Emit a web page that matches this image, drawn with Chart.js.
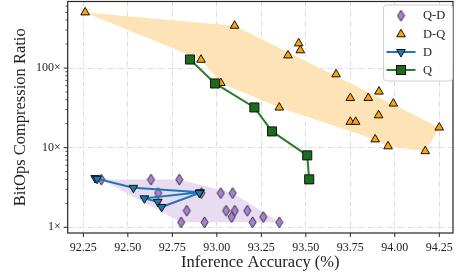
<!DOCTYPE html>
<html><head><meta charset="utf-8">
<script src="https://cdn.jsdelivr.net/npm/chart.js@4.4.1/dist/chart.umd.min.js"></script>
<style>html,body{margin:0;padding:0;background:#fff;overflow:hidden;}</style>
</head><body>
<canvas id="c" width="457" height="277"></canvas>
<script>
// ---- data ----
const qdAcc   = [92.351, 92.630, 92.789, 92.670, 92.913, 93.022, 93.089, 92.831, 93.052, 93.101, 93.171, 93.083, 93.261, 92.799, 92.931, 93.201, 93.351];
const qdRatio = [3.97, 3.97, 3.97, 2.69, 2.69, 2.69, 2.69, 1.615, 1.615, 1.615, 1.615, 1.346, 1.346, 1.155, 1.155, 1.155, 1.155];

const dqAcc   = [92.26, 92.911, 93.10, 93.46, 93.469, 93.40, 93.022, 93.351, 93.67, 93.75, 93.851, 93.911, 93.992, 93.909, 93.75, 93.78, 94.25, 93.89, 93.962, 94.171];
const dqRatio = [500, 127, 340, 204, 167, 144, 64.9, 31.9, 83.4, 42.1, 42.1, 50.6, 35.8, 25.5, 21.1, 21.1, 17.9, 12.7, 10.4, 9.04];

const dAcc    = [92.316, 92.327, 92.531, 92.906, 92.593, 92.668, 92.690, 92.902];
const dRatio  = [4.15, 4.07, 3.13, 2.75, 2.31, 2.09, 1.80, 2.70];

const qAcc    = [92.849, 92.990, 93.211, 93.310, 93.508, 93.519];
const qRatio  = [128, 64, 32, 16, 8, 4];

const xTickVals   = [92.25, 92.50, 92.75, 93.00, 93.25, 93.50, 93.75, 94.00, 94.25];
const yTickVals   = [1,2,3,4,5,6,7,8,9,10,20,30,40,50,60,70,80,90,100,200,300,400,500,600];
const yMajorVals  = [1, 10, 100];
const yMajorLabels= ['1×', '10×', '100×'];
const seriesNames = ['Q-D', 'D-Q', 'D', 'Q'];

// ---- helpers ----
const pts = (xs, ys) => xs.map((x, i) => ({x, y: ys[i]}));
function hull(p) { // convex hull (monotone chain) in data space
  const s = p.slice().sort((a, b) => a.x - b.x || a.y - b.y);
  const cr = (o, a, b) => (a.x - o.x) * (b.y - o.y) - (a.y - o.y) * (b.x - o.x);
  const lo = [], up = [];
  for (const q of s) { while (lo.length >= 2 && cr(lo[lo.length-2], lo[lo.length-1], q) <= 0) lo.pop(); lo.push(q); }
  for (let i = s.length - 1; i >= 0; i--) { const q = s[i]; while (up.length >= 2 && cr(up[up.length-2], up[up.length-1], q) <= 0) up.pop(); up.push(q); }
  up.pop(); lo.pop();
  return lo.concat(up);
}
const SERIF = "'Liberation Serif', 'DejaVu Serif', serif";

function diamondSprite(w, h, fill) {
  const c = document.createElement('canvas');
  c.width = w + 2; c.height = h + 2;
  const g = c.getContext('2d');
  g.beginPath();
  g.moveTo(c.width/2, 1); g.lineTo(c.width - 1, c.height/2);
  g.lineTo(c.width/2, c.height - 1); g.lineTo(1, c.height/2); g.closePath();
  g.fillStyle = fill; g.fill();
  g.lineWidth = 0.9; g.strokeStyle = '#222'; g.stroke();
  return c;
}
const PURPLE = '#a97fd6', ORANGE = '#ffa500', BLUE = '#1f77b4', GREEN_L = '#2a7d2a', GREEN_M = '#1d6b1d';
const diamond = diamondSprite(7, 11, PURPLE);

const frameTicksLegend = {
  id: 'frameTicksLegend',
  afterDraw(chart) {
    const ctx = chart.ctx, a = chart.chartArea;
    const xs = chart.scales.x, ys = chart.scales.y;
    ctx.save();
    ctx.strokeStyle = '#262626';
    for (const v of xTickVals) {
      const px = xs.getPixelForValue(v);
      ctx.lineWidth = 1; ctx.beginPath(); ctx.moveTo(px, a.bottom); ctx.lineTo(px, a.bottom + 4); ctx.stroke();
    }
    for (const v of yTickVals) {
      const py = ys.getPixelForValue(v);
      if (py < a.top || py > a.bottom) continue;
      const major = yMajorVals.includes(v);
      ctx.lineWidth = major ? 1 : 0.8;
      ctx.beginPath(); ctx.moveTo(a.left, py); ctx.lineTo(a.left - (major ? 4 : 2.3), py); ctx.stroke();
    }
    ctx.lineWidth = 1.2; ctx.strokeStyle = '#262626';
    ctx.strokeRect(a.left, a.top, a.right - a.left, a.bottom - a.top);
    // legend
    const bx = 383.5, by = 5, bw = 69, bh = 76, r = 3;
    ctx.beginPath();
    ctx.moveTo(bx + r, by); ctx.lineTo(bx + bw - r, by); ctx.arcTo(bx + bw, by, bx + bw, by + r, r);
    ctx.lineTo(bx + bw, by + bh - r); ctx.arcTo(bx + bw, by + bh, bx + bw - r, by + bh, r);
    ctx.lineTo(bx + r, by + bh); ctx.arcTo(bx, by + bh, bx, by + bh - r, r);
    ctx.lineTo(bx, by + r); ctx.arcTo(bx, by, bx + r, by, r); ctx.closePath();
    ctx.fillStyle = 'rgba(255,255,255,0.85)'; ctx.fill();
    ctx.lineWidth = 1; ctx.strokeStyle = '#d0d0d0'; ctx.stroke();
    const mx = 401, rows = [15.7, 34.3, 52, 70];
    ctx.drawImage(diamond, mx - diamond.width/2, rows[0] - diamond.height/2);
    tri(ctx, mx, rows[1], 5, false, ORANGE);
    ctx.strokeStyle = BLUE; ctx.lineWidth = 2;
    ctx.beginPath(); ctx.moveTo(386.5, rows[2]); ctx.lineTo(415.5, rows[2]); ctx.stroke();
    tri(ctx, mx, rows[2], 5, true, BLUE);
    ctx.strokeStyle = GREEN_L; ctx.lineWidth = 2;
    ctx.beginPath(); ctx.moveTo(386.5, rows[3]); ctx.lineTo(415.5, rows[3]); ctx.stroke();
    ctx.fillStyle = GREEN_M; ctx.fillRect(mx - 4.5, rows[3] - 4.5, 9, 9);
    ctx.lineWidth = 1; ctx.strokeStyle = '#111'; ctx.strokeRect(mx - 4.5, rows[3] - 4.5, 9, 9);
    ctx.fillStyle = '#222'; ctx.font = '12.5px ' + SERIF; ctx.textBaseline = 'middle'; ctx.textAlign = 'left';
    seriesNames.forEach((t, i) => ctx.fillText(t, 423, rows[i] + 0.5));
    ctx.restore();
  }
};
function tri(ctx, x, y, r, down, fill) {
  ctx.beginPath();
  const s = down ? -1 : 1;
  ctx.moveTo(x, y - s * r);
  ctx.lineTo(x + r * 0.866, y + s * r * 0.5);
  ctx.lineTo(x - r * 0.866, y + s * r * 0.5);
  ctx.closePath();
  ctx.fillStyle = fill; ctx.fill();
  ctx.lineWidth = 1; ctx.strokeStyle = '#111'; ctx.stroke();
}

const gridDash = [5, 2, 1, 2];
new Chart(document.getElementById('c'), {
  type: 'scatter',
  data: {
    datasets: [
      { label: 'Q-D hull', data: hull(pts(qdAcc, qdRatio)), showLine: true, fill: 'shape', backgroundColor: '#e8dcf2', borderWidth: 0, pointRadius: 0, tension: 0, order: 10 },
      { label: 'D-Q hull', data: hull(pts(dqAcc, dqRatio)), showLine: true, fill: 'shape', backgroundColor: '#fde3b6', borderWidth: 0, pointRadius: 0, tension: 0, order: 9 },
      { label: seriesNames[0], data: pts(qdAcc, qdRatio), pointStyle: diamond, pointRadius: 5, order: 6 },
      { label: seriesNames[1], data: pts(dqAcc, dqRatio), pointStyle: 'triangle', pointRadius: 5, backgroundColor: ORANGE, borderColor: '#111', borderWidth: 1, order: 5 },
      { label: seriesNames[2], data: pts(dAcc, dRatio), showLine: true, borderColor: BLUE, borderWidth: 2, tension: 0,
        pointStyle: 'triangle', rotation: 180, pointRadius: 5, pointBackgroundColor: BLUE, pointBorderColor: '#111', pointBorderWidth: 1, order: 4 },
      { label: seriesNames[3], data: pts(qAcc, qRatio), showLine: true, borderColor: GREEN_L, borderWidth: 2, tension: 0,
        pointStyle: 'rect', pointRadius: 6.4, pointBackgroundColor: GREEN_M, pointBorderColor: '#111', pointBorderWidth: 1, order: 3 }
    ]
  },
  options: {
    responsive: false, animation: false, devicePixelRatio: 1,
    layout: { autoPadding: false, padding: { top: 1.5, right: 4, left: 0, bottom: 0 } },
    plugins: { legend: { display: false }, tooltip: { enabled: false } },
    scales: {
      x: {
        type: 'linear', min: 92.162, max: 94.327,
        afterBuildTicks: s => { s.ticks = xTickVals.map(v => ({ value: v })); },
        afterFit: s => { s.height = 44; s.paddingLeft = 0; s.paddingRight = 0; },
        ticks: { callback: v => Number(v).toFixed(2), font: { family: SERIF, size: 12 }, color: '#222', padding: 8, maxRotation: 0, autoSkip: false },
        grid: { drawTicks: false, color: 'rgba(0,0,0,0.14)', lineWidth: 1, borderDash: gridDash },
        border: { display: false, dash: gridDash },
        title: { display: true, text: 'Inference Accuracy (%)', font: { family: SERIF, size: 16.5 }, color: '#222', padding: { top: 0, bottom: 4.6 } }
      },
      y: {
        type: 'logarithmic', min: 0.848, max: 685,
        afterBuildTicks: s => { s.ticks = yTickVals.map(v => ({ value: v, major: yMajorVals.includes(v) })); },
        afterFit: s => { s.width = 67.7; s.paddingTop = 0; s.paddingBottom = 0; },
        ticks: { callback: v => { const i = yMajorVals.indexOf(v); return i >= 0 ? yMajorLabels[i] : ''; },
                 font: { family: SERIF, size: 12 }, color: '#222', padding: 7, autoSkip: false },
        grid: { drawTicks: false, lineWidth: 1, borderDash: gridDash,
                color: c => (c.tick && yMajorVals.includes(c.tick.value)) ? 'rgba(0,0,0,0.14)' : 'rgba(0,0,0,0)' },
        border: { display: false, dash: gridDash },
        title: { display: true, text: 'BitOps Compression Ratio', font: { family: SERIF, size: 16.5 }, color: '#222', padding: { top: 11.1, bottom: 0 } }
      }
    }
  },
  plugins: [frameTicksLegend]
});
</script>
</body></html>
